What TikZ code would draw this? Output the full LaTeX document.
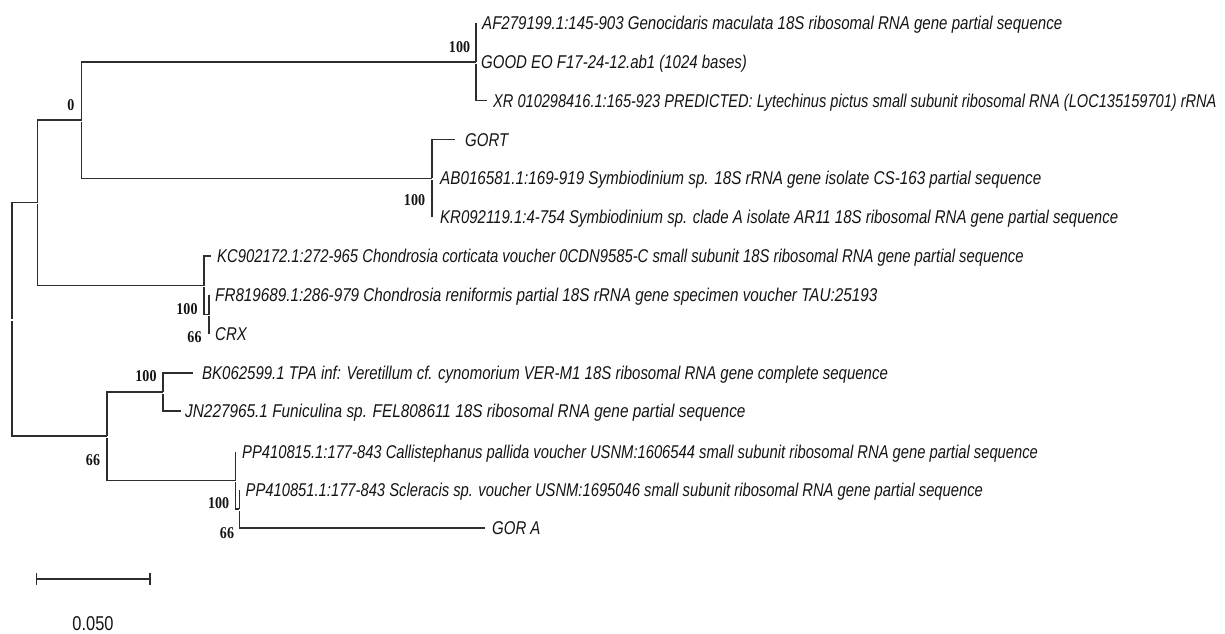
\documentclass[tikz,border=0pt]{standalone}
\usepackage{graphicx}
\usepackage{fontspec}
\newfontfamily\labfont[FakeStretch=0.81]{Liberation Sans}
\newfontfamily\bsfont[FakeStretch=0.85]{Liberation Serif}
\newfontfamily\scfont[FakeStretch=0.82]{Liberation Sans}
\definecolor{lc}{RGB}{45,45,45}
\definecolor{tc}{RGB}{20,20,20}
\newcommand\sxw[2]{\scalebox{#1}[1]{#2}}
\begin{document}
\begin{tikzpicture}[x=1pt,y=-1pt,
  br/.style={line width=1.1pt, draw=lc},
  leaf/.style={anchor=base west, inner sep=0pt, text=tc, yshift=-6.6pt,
    font=\labfont\itshape\fontsize{18.5}{20}\selectfont},
  bs/.style={inner sep=0pt, text=tc, font=\bsfont\bfseries\fontsize{16.5}{18}\selectfont},
  sclab/.style={inner sep=0pt, text=tc, font=\scfont\fontsize{20}{22}\selectfont}]
\useasboundingbox (0,0) rectangle (1225,633);
% internal nodes
\coordinate (A) at (12,319);
\coordinate (B) at (37.7,202.5);
\coordinate (D) at (81.7,120);
\coordinate (E) at (476,62);
\coordinate (F) at (432,178.2);
\coordinate (G) at (204,285.5);
\coordinate (H) at (209,314.5);
\coordinate (C) at (107,436);
\coordinate (I) at (163,392);
\coordinate (J) at (235.7,480.5);
\coordinate (K) at (239.3,509);
% leaf tips
\coordinate (tAF) at (476,23);
\coordinate (tXR) at (487,100.6);
\coordinate (tGORT) at (455,139.4);
\coordinate (tKR) at (432,217);
\coordinate (tKC) at (211,256);
\coordinate (tFR) at (209,295);
\coordinate (tCRX) at (209,334);
\coordinate (tBK) at (193,373);
\coordinate (tJN) at (181,411);
\coordinate (tPP1) at (235.7,452);
\coordinate (tPP2) at (239.3,490);
\coordinate (tGA) at (485,528);
% branches
\draw[br] (A) |- (B);  \draw[br] ([yshift=-2pt]A) |- (C);
\draw[br] (B) |- (D);  \draw[br] ([yshift=-1.5pt]B) |- (G);
\draw[br] (D) |- (E);  \draw[br] ([yshift=-2pt]D) |- (F);
\draw[br] (E) |- (tAF); \draw[br] ([yshift=-1.5pt]E) |- (tXR);
\draw[br] (F) |- (tGORT); \draw[br] ([yshift=-1.5pt]F) |- (tKR);
\draw[br] (G) |- (tKC); \draw[br] ([yshift=-1.5pt]G) |- (H);
\draw[br] (H) |- (tFR); \draw[br] ([yshift=-1.5pt]H) |- (tCRX);
\draw[br] (C) |- (I);  \draw[br] ([yshift=-1.5pt]C) |- (J);
\draw[br] (I) |- (tBK); \draw[br] ([yshift=-1.5pt]I) |- (tJN);
\draw[br] (J) |- (tPP1); \draw[br] ([yshift=-1.5pt]J) |- (K);
\draw[br] (K) |- (tPP2); \draw[br] ([yshift=-1.5pt]K) |- (tGA);
% leaf labels
\node[leaf] (nAF) at (482,23) {\sxw{1.005}{AF279199.1:145-903 Genocidaris maculata 18S ribosomal RNA gene partial sequence}};
\node[leaf] (nGOOD) at (481,62) {GOOD EO F17-24-12.ab1 (1024 bases)};
\node[leaf] (nXR) at (493,100.6) {\sxw{0.974}{XR 010298416.1:165-923 PREDICTED: Lytechinus pictus small subunit ribosomal RNA (LOC135159701) rRNA}};
\node[leaf] (nGORT) at (465,139.4) {GORT};
\node[leaf] (nAB) at (440,178.2) {\sxw{1.017}{AB016581.1:169-919 Symbiodinium sp. 18S rRNA gene isolate CS-163 partial sequence}};
\node[leaf] (nKR) at (440,217) {KR092119.1:4-754 Symbiodinium sp. clade A isolate AR11 18S ribosomal RNA gene partial sequence};
\node[leaf] (nKC) at (217,256) {\sxw{0.99}{KC902172.1:272-965 Chondrosia corticata voucher 0CDN9585-C small subunit 18S ribosomal RNA gene partial sequence}};
\node[leaf] (nFR) at (215,295) {\sxw{1.017}{FR819689.1:286-979 Chondrosia reniformis partial 18S rRNA gene specimen voucher TAU:25193}};
\node[leaf] (nCRX) at (215,334) {CRX};
\node[leaf] (nBK) at (202,373) {BK062599.1 TPA inf: Veretillum cf. cynomorium VER-M1 18S ribosomal RNA gene complete sequence};
\node[leaf] (nJN) at (185,411) {\sxw{1.025}{JN227965.1 Funiculina sp. FEL808611 18S ribosomal RNA gene partial sequence}};
\node[leaf] (nPP1) at (242,452) {\sxw{0.985}{PP410815.1:177-843 Callistephanus pallida voucher USNM:1606544 small subunit ribosomal RNA gene partial sequence}};
\node[leaf] (nPP2) at (245.5,490) {\sxw{0.985}{PP410851.1:177-843 Scleracis sp. voucher USNM:1695046 small subunit ribosomal RNA gene partial sequence}};
\node[leaf] (nGA) at (492,528) {GOR A};
% bootstrap values
\node[bs] (bE) at (459.5,47) {100};
\node[bs] (bD) at (71,105) {0};
\node[bs] (bF) at (414.5,200) {100};
\node[bs] (bH) at (187,309) {100};
\node[bs] (bG) at (194.5,337) {66};
\node[bs] (bI) at (146,376) {100};
\node[bs] (bC) at (93,460) {66};
\node[bs] (bJ) at (218.7,503) {100};
\node[bs] (bK) at (227,533) {66};
% scale bar
\coordinate (s1) at (36.7,579);
\coordinate (s2) at (150,579);
\draw[br] (s1) -- (s2);
\draw[br] ([yshift=6pt]s1) -- ([yshift=-6pt]s1);
\draw[br] ([yshift=6pt]s2) -- ([yshift=-6pt]s2);
\node[sclab] (sl) at (93,624) {0.050};
\end{tikzpicture}
\end{document}
